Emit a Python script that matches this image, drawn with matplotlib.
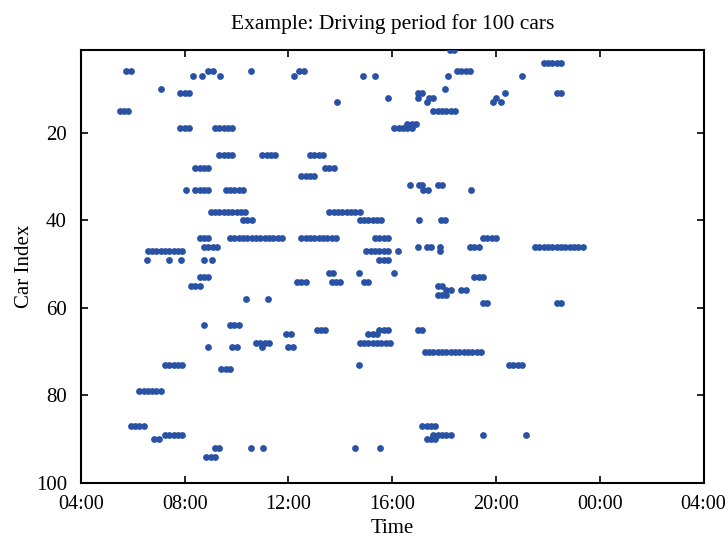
import matplotlib
matplotlib.use("Agg")
import matplotlib.pyplot as plt

# car index and the times (HH:MM) at which that car was seen driving
car_ids = [1, 4, 6, 7, 10, 11, 12, 13, 15, 18, 19, 25, 28, 30, 32, 33, 38, 40,
           44, 46, 47, 49, 52, 53, 54, 55, 56, 57, 58, 59, 64, 65, 66, 68, 69,
           70, 73, 74, 79, 87, 89, 90, 92, 94]
drive_times = [
    "18:13 18:23",
    "21:50 22:00 22:10 22:20 22:30",
    "05:45 05:55 08:55 09:05 10:33 12:25 12:35 18:30 18:40 18:50 19:00",
    "08:20 08:40 09:22 12:13 14:52 15:21 18:10 21:01",
    "07:05 18:02",
    "07:50 08:00 08:10 17:00 17:10 20:21 22:20 22:30",
    "15:50 17:00 17:25 17:35 20:01",
    "13:52 17:20 19:52 20:11",
    "05:30 05:40 05:50 17:35 17:45 17:55 18:05 18:15 18:25",
    "16:35 16:45 16:55",
    "07:50 08:00 08:10 09:10 09:20 09:30 09:40 09:50 16:05 16:15 16:25 16:35 16:45",
    "09:20 09:30 09:40 09:50 11:00 11:10 11:20 11:30 12:50 13:00 13:10 13:20",
    "08:25 08:35 08:45 08:55 13:25 13:35 13:45",
    "12:30 12:40 12:50 13:00",
    "16:42 17:02 17:10 17:45 17:55",
    "08:04 08:25 08:35 08:45 08:55 09:35 09:45 09:55 10:05 10:15 17:12 17:22 19:02",
    "09:00 09:10 09:20 09:30 09:40 09:50 10:00 10:10 10:20 "
    "13:35 13:45 13:55 14:05 14:15 14:25 14:35 14:45",
    "10:15 10:25 10:35 14:45 14:55 15:05 15:15 15:25 15:35 17:01 17:53 18:03",
    "08:35 08:45 08:55 09:45 09:55 10:05 10:15 10:25 10:35 10:45 10:55 11:05 "
    "11:15 11:25 11:35 11:45 12:30 12:40 12:50 13:00 13:10 13:20 13:30 13:40 "
    "13:50 15:20 15:30 15:40 15:50 19:30 19:40 19:50 20:00",
    "08:45 08:55 09:05 09:15 17:00 17:20 17:30 17:50 19:00 19:10 19:20 21:30 "
    "21:40 21:50 22:00 22:10 22:20 22:30 22:40 22:50 23:00 23:10 23:20",
    "06:35 06:45 06:55 07:05 07:15 07:25 07:35 07:45 07:55 15:00 15:10 15:20 "
    "15:30 15:40 15:50 16:13 17:50",
    "06:32 07:24 07:52 08:44 09:03 15:30 15:40 15:50",
    "13:33 13:43 14:43 16:04",
    "08:35 08:45 08:55 19:10 19:20 19:30",
    "12:20 12:30 12:40 13:40 13:50 14:00 14:55 15:05",
    "08:15 08:25 08:35 17:45 17:55",
    "18:05 18:15 18:40 18:50",
    "17:45 17:55 18:05",
    "10:23 11:12",
    "19:30 19:40 22:20 22:30",
    "08:44 09:45 09:55 10:05",
    "13:05 13:15 13:25 15:30 15:40 15:50 17:00 17:10",
    "11:55 12:05 15:05 15:15 15:25",
    "10:45 10:55 11:05 11:15 14:45 14:55 15:05 15:15 15:25 15:35 15:45 15:55",
    "08:54 09:50 10:00 11:00 12:00 12:10",
    "17:15 17:25 17:35 17:45 17:55 18:05 18:15 18:25 18:35 18:45 18:55 19:05 "
    "19:15 19:25",
    "07:15 07:25 07:35 07:45 07:55 14:43 20:30 20:40 20:50 21:00",
    "09:25 09:35 09:45",
    "06:15 06:25 06:35 06:45 06:55 07:05",
    "05:55 06:05 06:15 06:25 17:10 17:20 17:30 17:40",
    "07:15 07:25 07:35 07:45 07:55 17:35 17:45 17:55 18:05 18:15 19:31 21:10",
    "06:50 07:00 17:20 17:30 17:40",
    "09:10 09:20 10:34 11:02 14:34 15:31",
    "08:50 09:00 09:10",
]

x_ticks = [4, 8, 12, 16, 20, 24, 28]
x_tick_labels = ["04:00", "08:00", "12:00", "16:00", "20:00", "00:00", "04:00"]
y_ticks = [20, 40, 60, 80, 100]


def to_hours(hhmm):
    h, m = hhmm.split(":")
    h = int(h) + int(m) / 60.0
    if h < 4:
        h += 24
    return h


xs = []
ys = []
for car, times in zip(car_ids, drive_times):
    for t in times.split():
        xs.append(to_hours(t))
        ys.append(car)

plt.rcParams["font.family"] = ["Liberation Serif", "DejaVu Serif"]
plt.rcParams["font.size"] = 15

fig = plt.figure(figsize=(7.28, 5.37), dpi=100)
ax = fig.add_axes([0.111, 0.1006, 0.8555, 0.8072])
ax.scatter(xs, ys, s=24, color="#2a52a4", linewidths=0, zorder=3)

ax.set_xlim(4, 28)
ax.set_ylim(100, 1)
ax.set_xticks(x_ticks)
ax.set_xticklabels(x_tick_labels)
ax.set_yticks(y_ticks)
ax.tick_params(direction="in", top=True, right=True, length=5, width=1.2)
ax.tick_params(axis="x", labelsize=14.5, pad=9)
ax.tick_params(axis="y", pad=10)
for sp in ax.spines.values():
    sp.set_linewidth(1.5)

ax.set_title("Example: Driving period for 100 cars", fontsize=15.5, pad=15)
ax.set_xlabel("Time", labelpad=3)
ax.set_ylabel("Car Index", labelpad=1)

fig.savefig("out.png", dpi=100)
